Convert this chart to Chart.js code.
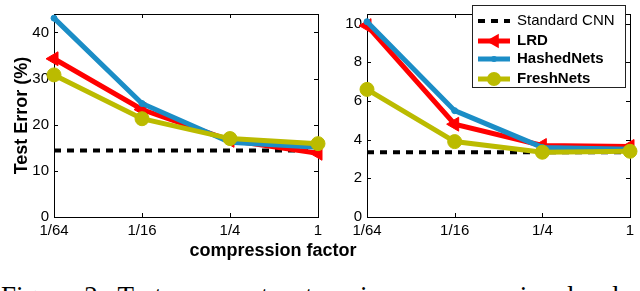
<!DOCTYPE html>
<html>
<head>
<meta charset="utf-8">
<script src="https://cdn.jsdelivr.net/npm/chart.js@4.4.1/dist/chart.umd.min.js"></script>
<style>
  html, body { margin: 0; padding: 0; background: #fff; }
  body { width: 640px; height: 291px; position: relative; overflow: hidden; }
  #left { position: absolute; left: 0; top: 0; }
  #right { position: absolute; left: 320px; top: 0; }
  #xtitle { position: absolute; left: 0; width: 546px; top: 240px; text-align: center;
            font: bold 18px "Liberation Sans", Arial, sans-serif; color: #000; }
  #caption { position: absolute; left: 1px; top: 281px; white-space: nowrap; line-height: 27px;
             word-spacing: 6px; font: 27px "Liberation Serif", "Times New Roman", serif; color: #000; }
</style>
</head>
<body>
<canvas id="left" width="330" height="245"></canvas>
<canvas id="right" width="320" height="245"></canvas>
<div id="xtitle">compression factor</div>
<div id="caption">Figure 2: Test error rate at various compression levels of</div>
<script>
// categorias e valores
const factors = ['1/64', '1/16', '1/4', '1'];

const standardLeft = [14.4, 14.4, 14.4, 14.4];
const lrdLeft = [34.3, 23.3, 16.6, 13.8];
const hashedLeft = [43.1, 24.6, 16.2, 15.1];
const freshLeft = [30.8, 21.3, 17.0, 15.9];

const standardRight = [3.35, 3.35, 3.35, 3.35];
const lrdRight = [9.9, 4.8, 3.7, 3.65];
const hashedRight = [10.1, 5.5, 3.6, 3.5];
const freshRight = [6.6, 3.9, 3.35, 3.4];

const leftTicks = [0, 10, 20, 30, 40];
const rightTicks = [0, 2, 4, 6, 8, 10];

const RED = '#ff0000';
const BLUE = '#1b8dc6';
const OLIVE = '#bbbb00';
const tickFont = { family: '"Liberation Sans", Arial, sans-serif', size: 15 };

function montarDatasets(std, lrd, hashed, fresh) {
    return [
        { label: 'Standard CNN', data: std, borderColor: '#000', borderWidth: 4, borderDash: [7, 6],
          pointRadius: 0, order: 4, clip: false },
        { label: 'LRD', data: lrd, borderColor: RED, backgroundColor: RED, borderWidth: 5,
          pointStyle: 'triangle', pointRotation: -90, pointRadius: 8, pointBorderWidth: 1, order: 3, clip: false },
        { label: 'HashedNets', data: hashed, borderColor: BLUE, backgroundColor: BLUE, borderWidth: 5,
          pointStyle: 'circle', pointRadius: 3, pointBorderWidth: 1, order: 2, clip: false },
        { label: 'FreshNets', data: fresh, borderColor: OLIVE, backgroundColor: OLIVE, borderWidth: 5,
          pointStyle: 'circle', pointRadius: 7, pointBorderWidth: 1, order: 1, clip: false }
    ];
}

// moldura estilo MATLAB com ticks para dentro
const moldura = {
    id: 'moldura',
    beforeDatasetsDraw(chart) {
        const { ctx, chartArea: a, scales: { x, y } } = chart;
        ctx.save();
        ctx.strokeStyle = '#000';
        ctx.lineWidth = 1;
        ctx.strokeRect(a.left + 0.5, a.top + 0.5, a.right - a.left, a.bottom - a.top);
        ctx.beginPath();
        y.ticks.forEach(t => {
            const py = Math.round(y.getPixelForValue(t.value)) + 0.5;
            ctx.moveTo(a.left, py); ctx.lineTo(a.left + 4, py);
            ctx.moveTo(a.right, py); ctx.lineTo(a.right - 4, py);
        });
        x.ticks.forEach((t, i) => {
            const px = Math.round(x.getPixelForTick(i)) + 0.5;
            ctx.moveTo(px, a.bottom); ctx.lineTo(px, a.bottom - 4);
            ctx.moveTo(px, a.top); ctx.lineTo(px, a.top + 4);
        });
        ctx.stroke();
        ctx.restore();
    }
};

// legenda desenhada dentro da área do gráfico da direita
const legendaInterna = {
    id: 'legendaInterna',
    afterDraw(chart) {
        const ctx = chart.ctx;
        const bx = 152, by = 5, bw = 153, bh = 82;
        const rows = [16, 36, 54, 74];
        ctx.save();
        ctx.fillStyle = '#fff';
        ctx.fillRect(bx, by, bw, bh);
        ctx.strokeStyle = '#222';
        ctx.lineWidth = 1;
        ctx.strokeRect(bx + 0.5, by + 0.5, bw, bh);
        chart.data.datasets.forEach((ds, i) => {
            const yy = by + rows[i];
            ctx.strokeStyle = ds.borderColor;
            ctx.lineWidth = ds.borderWidth;
            ctx.setLineDash(ds.borderDash || []);
            ctx.beginPath();
            ctx.moveTo(158, yy); ctx.lineTo(190, yy);
            ctx.stroke();
            ctx.setLineDash([]);
            ctx.fillStyle = ds.borderColor;
            if (ds.pointStyle === 'triangle') {
                const r = ds.pointRadius;
                ctx.beginPath();
                ctx.moveTo(174 - r, yy);
                ctx.lineTo(174 + r * 0.6, yy - r * 0.9);
                ctx.lineTo(174 + r * 0.6, yy + r * 0.9);
                ctx.closePath();
                ctx.fill();
            } else if (ds.pointRadius > 0) {
                ctx.beginPath();
                ctx.arc(174, yy, ds.pointRadius, 0, Math.PI * 2);
                ctx.fill();
            }
            ctx.fillStyle = '#000';
            ctx.textBaseline = 'middle';
            ctx.font = (i === 0 ? '' : 'bold ') + '15px "Liberation Sans", Arial, sans-serif';
            ctx.fillText(ds.label, 197, yy);
        });
        ctx.restore();
    }
};

function criarGrafico(canvasId, datasets, yMax, yTicks, yWidth, padRight, comTitulo, extras) {
    const ctx = document.getElementById(canvasId).getContext('2d');
    return new Chart(ctx, {
        type: 'line',
        data: { labels: factors, datasets: datasets },
        plugins: [moldura].concat(extras),
        options: {
            responsive: false,
            animation: false,
            layout: { padding: { left: 0, right: padRight, top: 0, bottom: 0 } },
            plugins: { legend: { display: false }, tooltip: { enabled: false } },
            elements: { line: { tension: 0 } },
            scales: {
                x: {
                    type: 'category',
                    offset: false,
                    grid: { display: false, drawTicks: false },
                    border: { display: false },
                    ticks: { color: '#000', font: tickFont, padding: 5, maxRotation: 0, autoSkip: false },
                    afterFit(scale) { scale.height = 28; }
                },
                y: {
                    min: 0,
                    max: yMax,
                    grid: { display: false, drawTicks: false },
                    border: { display: false },
                    afterBuildTicks(scale) { scale.ticks = yTicks.map(v => ({ value: v })); },
                    ticks: { color: '#000', font: tickFont, padding: 5 },
                    title: {
                        display: comTitulo,
                        text: 'Test Error (%)',
                        color: '#000',
                        font: { family: '"Liberation Sans", Arial, sans-serif', size: 18, weight: 'bold' },
                        padding: { top: 11, bottom: 0 }
                    },
                    afterFit(scale) { scale.width = yWidth; }
                }
            }
        }
    });
}

criarGrafico('left', montarDatasets(standardLeft, lrdLeft, hashedLeft, freshLeft), 44, leftTicks, 54, 12, true, []);
criarGrafico('right', montarDatasets(standardRight, lrdRight, hashedRight, freshRight), 10.5, rightTicks, 47, 10, false, [legendaInterna]);
</script>
</body>
</html>
